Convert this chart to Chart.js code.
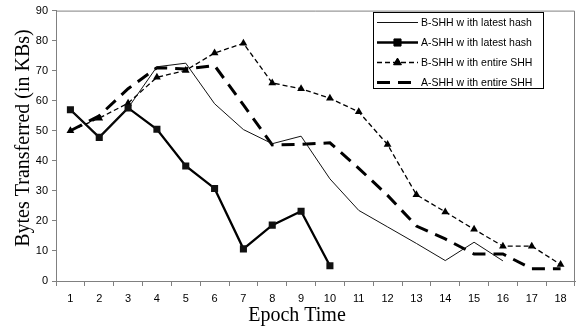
<!DOCTYPE html>
<html>
<head>
<meta charset="utf-8">
<script src="https://cdn.jsdelivr.net/npm/chart.js@4.4.0/dist/chart.umd.min.js"></script>
<style>
  html, body { margin: 0; padding: 0; background: #fff; }
  #wrap { width: 580px; height: 329px; position: relative; }
</style>
</head>
<body>
<div id="wrap"><canvas id="myChart"></canvas></div>
<script>
// Values
const epochs = ['1','2','3','4','5','6','7','8','9','10','11','12','13','14','15','16','17','18'];
const bLatest = [57, 47.8, 57.6, 71.3, 72.5, 59, 50.4, 45.7, 48.2, 34, 23.5, 18, 12.5, 6.8, 12.9, 6.7, null, null];
const aLatest = [57, 47.8, 57.6, 50.5, 38.3, 30.8, 10.7, 18.6, 23.2, 5.1, null, null, null, null, null, null, null, null];
const bEntire = [50, 54.2, 59.2, 67.8, 70.1, 75.9, 79.1, 65.9, 64, 60.8, 56.3, 45.4, 28.7, 23, 17.2, 11.6, 11.6, 5.5];
const aEntire = [50, 55, 64, 71, 70.6, 71.7, 58.6, 45.3, 45.5, 46, 37.5, 28.5, 18.3, 14, 9, 9, 4.1, 4.1];
const seriesNames = ['B-SHH w ith latest hash', 'A-SHH w ith latest hash', 'B-SHH w ith entire SHH', 'A-SHH w ith entire SHH'];
const yTitle = 'Bytes Transferred (in KBs)';
const xTitle = 'Epoch Time';

const ctx = document.getElementById('myChart');
const axisGray = '#808080';
const tickFont = { family: '"Liberation Sans", Arial, sans-serif', size: 11 };

// frame around the plot, axis titles and the boxed legend
const extras = {
  id: 'extras',
  afterDraw(chart) {
    const c = chart.ctx;
    const a = chart.chartArea;
    c.save();
    c.strokeStyle = axisGray;
    c.lineWidth = 1;
    c.beginPath();
    c.moveTo(a.left, a.top + 0.5);
    c.lineTo(a.right - 0.5, a.top + 0.5);
    c.lineTo(a.right - 0.5, a.bottom);
    c.stroke();

    // axis titles
    c.fillStyle = '#000';
    c.font = '20px "Liberation Serif", "Times New Roman", serif';
    c.textAlign = 'center';
    c.textBaseline = 'middle';
    c.fillText(xTitle, 297, 316);
    c.translate(24, 138);
    c.rotate(-Math.PI / 2);
    c.fillText(yTitle, 0, 0);
    c.restore();

    // legend
    c.save();
    const lx = 373.5, ly = 12.5, lw = 170, lh = 76;
    c.fillStyle = '#fff';
    c.fillRect(lx, ly, lw, lh);
    c.strokeStyle = '#000';
    c.lineWidth = 1;
    c.strokeRect(lx, ly, lw, lh);
    chart.data.datasets.forEach((ds, i) => {
      const y = 22.5 + i * 20;
      c.save();
      c.strokeStyle = ds.borderColor;
      c.lineWidth = ds.borderWidth;
      c.setLineDash(ds.borderDash || []);
      c.beginPath();
      c.moveTo(377, y);
      c.lineTo(418, y);
      c.stroke();
      c.restore();
      if (ds.pointRadius > 0) {
        Chart.helpers.drawPoint(c, {
          pointStyle: ds.pointStyle,
          radius: ds.pointRadius,
          borderWidth: 1
        }, 397.5, y);
        c.fillStyle = '#000';
        c.fill();
      }
      c.fillStyle = '#000';
      c.font = '10.5px "Liberation Sans", Arial, sans-serif';
      c.textAlign = 'left';
      c.textBaseline = 'middle';
      c.fillText(seriesNames[i], 421, y + 0.5);
    });
    c.restore();
  }
};

new Chart(ctx, {
  type: 'line',
  data: {
    labels: epochs,
    datasets: [
      {
        label: seriesNames[0],
        data: bLatest,
        borderColor: '#111',
        backgroundColor: '#111',
        borderWidth: 1,
        pointRadius: 0,
        pointStyle: false
      },
      {
        label: seriesNames[1],
        data: aLatest,
        borderColor: '#000',
        backgroundColor: '#111',
        borderWidth: 2.3,
        pointStyle: 'rect',
        pointRadius: 5,
        pointBorderWidth: 0
      },
      {
        label: seriesNames[2],
        data: bEntire,
        borderColor: '#000',
        backgroundColor: '#000',
        borderWidth: 1.3,
        borderDash: [5, 3],
        pointStyle: 'triangle',
        pointRadius: 4.5,
        pointBorderWidth: 0
      },
      {
        label: seriesNames[3],
        data: aEntire,
        borderColor: '#000',
        backgroundColor: '#000',
        borderWidth: 3,
        borderDash: [13, 8],
        pointRadius: 0,
        pointStyle: false
      }
    ]
  },
  options: {
    animation: false,
    responsive: true,
    maintainAspectRatio: false,
    events: [],
    layout: { padding: { top: 6, right: 2, left: 0, bottom: 0 } },
    elements: { line: { tension: 0, fill: false } },
    plugins: {
      legend: { display: false },
      tooltip: { enabled: false }
    },
    scales: {
      x: {
        offset: true,
        afterFit(scale) { scale.height = 48; },
        grid: {
          offset: true,
          drawOnChartArea: false,
          drawTicks: true,
          tickLength: 5,
          color: axisGray
        },
        border: { color: axisGray, width: 1 },
        ticks: { color: '#000', font: tickFont, padding: 6, maxRotation: 0, autoSkip: false }
      },
      y: {
        min: 0,
        max: 90,
        afterFit(scale) { scale.width = 56; },
        grid: {
          drawOnChartArea: false,
          drawTicks: true,
          tickLength: 4,
          color: axisGray
        },
        border: { color: axisGray, width: 1 },
        ticks: { stepSize: 10, color: '#000', font: tickFont, padding: 4 }
      }
    }
  },
  plugins: [extras]
});
</script>
</body>
</html>
